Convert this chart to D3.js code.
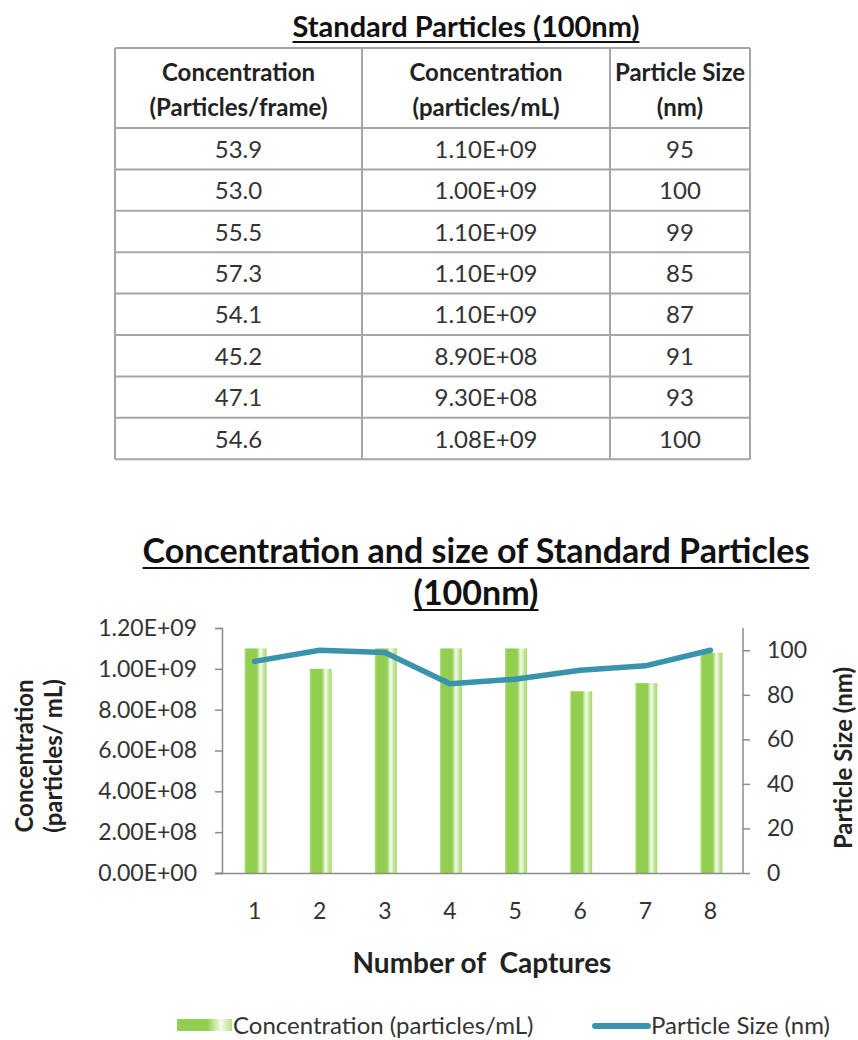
<!DOCTYPE html>
<html>
<head>
<meta charset="utf-8">
<script src="https://cdn.jsdelivr.net/npm/d3@7"></script>
<style>
  body { margin: 0; background: #fff; }
  svg { display: block; font-family: Lato, "Open Sans", sans-serif; }
</style>
</head>
<body>
<div class="js-chart"></div>
<script>
var captures = [1, 2, 3, 4, 5, 6, 7, 8]
  , perFrame = [53.9, 53.0, 55.5, 57.3, 54.1, 45.2, 47.1, 54.6]
  , concentration = [1.10e9, 1.00e9, 1.10e9, 1.10e9, 1.10e9, 8.90e8, 9.30e8, 1.08e9]
  , particleSize = [95, 100, 99, 85, 87, 91, 93, 100]
  , concTicks = [0, 2e8, 4e8, 6e8, 8e8, 1e9, 1.2e9]
  , sizeTicks = [0, 20, 40, 60, 80, 100]
  , tableHeaders = [["Concentration", "(Particles/frame)"], ["Concentration", "(particles/mL)"], ["Particle Size", "(nm)"]]
  ;

(function() {
  var width = 858
    , height = 1040
    , textColor = "#333"
    , axisColor = "#8c8c8c"
    , green = "#92cf50"
    , teal = "#3a93ad"
    ;

  var svg = d3.select('.js-chart')
        .append('svg')
          .attr('width', width)
          .attr('height', height);

  function sci(v) {
    // Excel style 1.10E+09
    var s = v.toExponential(2).toUpperCase().split('E')
      , exp = +s[1];
    return s[0] + 'E' + (exp < 0 ? '-' : '+') + d3.format('02')(Math.abs(exp));
  }

  function underlineText(g, x, y, str, size) {
    var t = g.append('text')
      .attr('x', x)
      .attr('y', y)
      .attr('text-anchor', 'middle')
      .attr('font-size', size)
      .attr('font-weight', 'bold')
      .attr('fill', '#111')
      .text(str);
    var bb = t.node().getBBox();
    g.append('line')
      .attr('x1', bb.x).attr('x2', bb.x + bb.width)
      .attr('y1', y + 5).attr('y2', y + 5)
      .attr('stroke', '#111')
      .attr('stroke-width', 2);
  }

  function buildTable() {
    var colEdges = [115, 362, 610, 750]
      , top = 48
      , headerBottom = 128
      , rowHeight = 41.4
      , nRows = perFrame.length
      , bottom = headerBottom + nRows * rowHeight
      , gTable = svg.append('g').attr('class', 'table')
      , rows = captures.map((c, i) => [perFrame[i].toFixed(1), sci(concentration[i]), String(particleSize[i])])
      ;

    underlineText(gTable, 466, 37, 'Standard Particles (100nm)', 29);

    // grid lines
    var hLines = [top, headerBottom].concat(d3.range(1, nRows + 1).map(i => headerBottom + i * rowHeight));
    gTable.selectAll('line.h')
      .data(hLines)
      .enter()
      .append('line')
        .attr('class', 'h')
        .attr('x1', colEdges[0]).attr('x2', colEdges[3])
        .attr('y1', d => d).attr('y2', d => d)
        .attr('stroke', '#a6a6a6')
        .attr('stroke-width', 2);

    gTable.selectAll('line.v')
      .data(colEdges)
      .enter()
      .append('line')
        .attr('class', 'v')
        .attr('x1', d => d).attr('x2', d => d)
        .attr('y1', top).attr('y2', bottom)
        .attr('stroke', '#a6a6a6')
        .attr('stroke-width', 2);

    var colCenter = i => (colEdges[i] + colEdges[i + 1]) / 2;

    tableHeaders.forEach((lines, i) => {
      gTable.append('text')
        .attr('x', colCenter(i))
        .attr('y', 81)
        .attr('text-anchor', 'middle')
        .attr('font-size', 24)
        .attr('font-weight', 'bold')
        .attr('fill', '#222')
        .selectAll('tspan')
        .data(lines)
        .enter()
        .append('tspan')
          .attr('x', colCenter(i))
          .attr('dy', (d, j) => j ? 35 : 0)
          .text(d => d);
    });

    rows.forEach((row, r) => {
      row.forEach((cell, i) => {
        gTable.append('text')
          .attr('x', colCenter(i))
          .attr('y', headerBottom + r * rowHeight + rowHeight / 2 + 9)
          .attr('text-anchor', 'middle')
          .attr('font-size', 24)
          .attr('fill', textColor)
          .text(cell);
      });
    });
  }

  function buildChart() {
    var left = 222
      , right = 743
      , top = 628
      , bottom = 873
      , x = d3.scaleBand().domain(captures).range([left, right])
      , yConc = d3.scaleLinear().domain([0, 1.2e9]).range([bottom, top])
      , ySize = d3.scaleLinear().domain([0, 110]).range([bottom, top])
      , barWidth = 22
      , gChart = svg.append('g').attr('class', 'chart')
      ;

    var defs = svg.append('defs');
    var grad = defs.append('linearGradient')
      .attr('id', 'barGrad')
      .attr('x1', '0%').attr('x2', '100%')
      .attr('y1', '0%').attr('y2', '0%');
    [['0%', '#b4df84'], ['10%', green], ['55%', green], ['72%', '#f4fbec'], ['86%', '#c6e7a0'], ['100%', '#a4d86a']]
      .forEach(s => grad.append('stop').attr('offset', s[0]).attr('stop-color', s[1]));

    var legendGrad = defs.append('linearGradient')
      .attr('id', 'legendGrad')
      .attr('x1', '0%').attr('x2', '100%');
    [['0%', green], ['55%', green], ['80%', '#f4fbec'], ['100%', '#b7e08a']]
      .forEach(s => legendGrad.append('stop').attr('offset', s[0]).attr('stop-color', s[1]));

    underlineText(gChart, 476, 563, 'Concentration and size of Standard Particles', 34);
    underlineText(gChart, 476, 605, '(100nm)', 34);

    // bars
    gChart.selectAll('rect.bar')
      .data(concentration)
      .enter()
      .append('rect')
        .attr('class', 'bar')
        .attr('x', (d, i) => x(captures[i]) + x.bandwidth() / 2 - barWidth / 2 + 1)
        .attr('y', d => yConc(d))
        .attr('width', barWidth)
        .attr('height', d => bottom - yConc(d))
        .attr('fill', 'url(#barGrad)');

    // axes
    var axisLeft = d3.axisLeft(yConc).tickValues(concTicks).tickSize(7).tickFormat(sci)
      , axisRight = d3.axisRight(ySize).tickValues(sizeTicks).tickSize(7)
      , axisBottom = d3.axisBottom(x).tickSize(0).tickPadding(30)
      ;

    function styleAxis(g) {
      g.select('.domain').attr('stroke', axisColor).attr('stroke-width', 1.5);
      g.selectAll('.tick line').attr('stroke', axisColor).attr('stroke-width', 1.5);
      g.selectAll('.tick text')
        .attr('fill', textColor)
        .attr('font-size', 23)
        .attr('font-family', 'Lato, sans-serif');
    }

    gChart.append('g')
      .attr('transform', `translate(0,${bottom})`)
      .call(axisBottom)
      .call(styleAxis)
      .call(g => g.select('.domain').attr('d', `M${left - 7},0.5H${right}`));

    gChart.append('g')
      .attr('transform', `translate(${left},0)`)
      .call(axisLeft)
      .call(styleAxis)
      .call(g => g.selectAll('.tick text').attr('x', -25));

    gChart.append('g')
      .attr('transform', `translate(${right},0)`)
      .call(axisRight)
      .call(styleAxis)
      .call(g => g.select('.domain').attr('d', `M0,${top}V${bottom}`))
      .call(g => g.selectAll('.tick text').attr('x', 24));

    // line
    var line = d3.line()
      .x((d, i) => x(captures[i]) + x.bandwidth() / 2)
      .y(d => ySize(d));

    gChart.append('path')
      .datum(particleSize)
      .attr('d', line)
      .attr('fill', 'none')
      .attr('stroke', teal)
      .attr('stroke-width', 5.5)
      .attr('stroke-linejoin', 'round')
      .attr('stroke-linecap', 'round');

    // axis titles
    var gTitles = gChart.append('g')
      .attr('font-weight', 'bold')
      .attr('fill', '#222')
      .attr('text-anchor', 'middle');

    gTitles.append('text')
      .attr('transform', 'translate(33,756) rotate(-90)')
      .attr('font-size', 24)
      .text('Concentration');
    gTitles.append('text')
      .attr('transform', 'translate(62,756) rotate(-90)')
      .attr('font-size', 24)
      .text('(particles/ mL)');
    gTitles.append('text')
      .attr('transform', 'translate(852,758) rotate(-90)')
      .attr('font-size', 24)
      .text('Particle Size (nm)');
    gTitles.append('text')
      .attr('x', 482)
      .attr('y', 973)
      .attr('font-size', 28)
      .attr('xml:space', 'preserve')
      .text('Number of  Captures');

    // legend
    var gLegend = gChart.append('g')
      .attr('font-size', 24)
      .attr('fill', textColor);

    gLegend.append('rect')
      .attr('x', 177).attr('y', 1019)
      .attr('width', 55).attr('height', 12)
      .attr('fill', 'url(#legendGrad)');
    gLegend.append('text')
      .attr('x', 233).attr('y', 1034)
      .text('Concentration (particles/mL)');

    gLegend.append('line')
      .attr('x1', 595).attr('x2', 648)
      .attr('y1', 1026).attr('y2', 1026)
      .attr('stroke', teal)
      .attr('stroke-width', 6)
      .attr('stroke-linecap', 'round');
    gLegend.append('text')
      .attr('x', 651).attr('y', 1034)
      .text('Particle Size (nm)');
  }

  buildTable();
  buildChart();
})();
</script>
</body>
</html>
